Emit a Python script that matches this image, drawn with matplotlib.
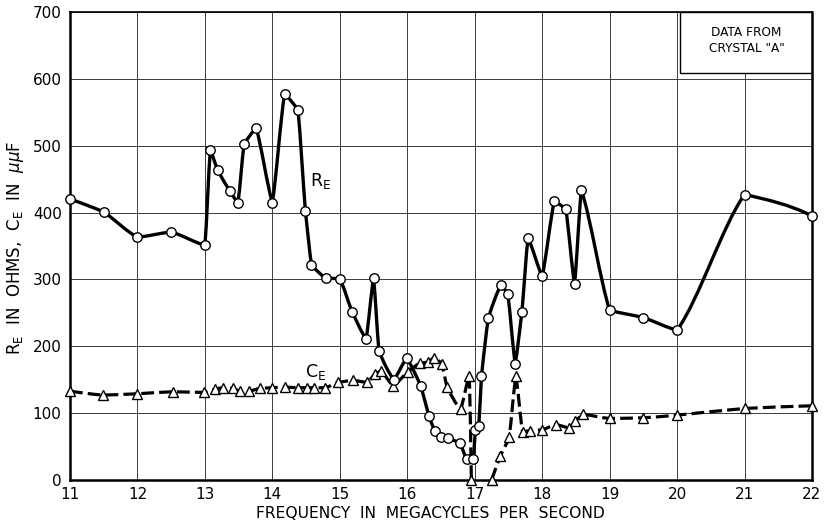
import numpy as np
import matplotlib
matplotlib.use("Agg")
import matplotlib.pyplot as plt
from matplotlib.path import Path
from matplotlib.patches import PathPatch, Rectangle

# Equivalent resistance R_E (ohms) versus frequency (Mc/s)
freq_re = [11.0, 11.5, 12.0, 12.5, 13.0, 13.08, 13.19, 13.37, 13.49, 13.58,
           13.76, 14.0, 14.18, 14.38, 14.49, 14.58, 14.79, 15.0, 15.18, 15.39,
           15.5, 15.58, 15.8, 15.99, 16.2, 16.32, 16.41, 16.5, 16.6, 16.78,
           16.88, 16.98, 17.01, 17.06, 17.1, 17.2, 17.39, 17.49, 17.6, 17.7,
           17.79, 18.0, 18.18, 18.35, 18.48, 18.58, 19.0, 19.5, 20.0, 21.0, 22.0]
re_ohms = [420, 401, 363, 371, 351, 493, 463, 432, 415, 502,
           526, 415, 577, 553, 402, 322, 302, 301, 252, 211,
           302, 193, 150, 182, 141, 96, 73, 65, 63, 55,
           32, 32, 75, 81, 155, 242, 292, 278, 174, 252,
           362, 305, 417, 405, 293, 434, 254, 243, 224, 427, 395]

# Equivalent capacitance C_E (micro-micro-farads), two branches
freq_ce_low = [11.0, 11.49, 12.0, 12.52, 12.98, 13.15, 13.27, 13.41, 13.52, 13.66,
               13.81, 13.99, 14.19, 14.38, 14.51, 14.61, 14.78, 14.98, 15.2, 15.4,
               15.52, 15.61, 15.79, 16.01, 16.19, 16.3, 16.4, 16.51, 16.59, 16.79,
               16.92, 16.95]
ce_low = [133, 127, 129, 132, 131, 136, 138, 137, 133, 133,
          137, 138, 139, 138, 138, 138, 138, 146, 149, 146,
          158, 163, 141, 162, 175, 176, 183, 174, 139, 106,
          156, 0]
freq_ce_high = [17.25, 17.38, 17.51, 17.61, 17.71, 17.82, 18.0, 18.2, 18.4, 18.49,
                18.61, 19.0, 19.5, 20.0, 21.0, 22.0]
ce_high = [0, 36, 64, 155, 72, 74, 75, 83, 78, 88,
           98, 92, 93, 97, 107, 111]

x_ticks = list(range(11, 23))
y_ticks = list(range(0, 800, 100))


def pchip_slopes(x, y):
    x = np.asarray(x, float)
    y = np.asarray(y, float)
    h = np.diff(x)
    dl = np.diff(y) / h
    n = len(x)
    d = np.zeros(n)
    for k in range(1, n - 1):
        if dl[k - 1] * dl[k] > 0:
            w1 = 2 * h[k] + h[k - 1]
            w2 = h[k] + 2 * h[k - 1]
            d[k] = (w1 + w2) / (w1 / dl[k - 1] + w2 / dl[k])

    def end(h0, h1, m0, m1):
        s = ((2 * h0 + h1) * m0 - h0 * m1) / (h0 + h1)
        if np.sign(s) != np.sign(m0):
            s = 0.0
        elif np.sign(m0) != np.sign(m1) and abs(s) > abs(3 * m0):
            s = 3 * m0
        return s

    if n > 2:
        d[0] = end(h[0], h[1], dl[0], dl[1])
        d[-1] = end(h[-1], h[-2], dl[-1], dl[-2])
    else:
        d[:] = dl[0]
    return d, dl


def smooth_path(x, y, bend=0.5):
    """Cubic Bezier path through the points; bend=0 gives straight
    segments, bend=1 a monotone cubic curve."""
    d, dl = pchip_slopes(x, y)
    verts = [(x[0], y[0])]
    codes = [Path.MOVETO]
    for i in range(len(x) - 1):
        hh = x[i + 1] - x[i]
        s0 = bend * d[i] + (1 - bend) * dl[i]
        s1 = bend * d[i + 1] + (1 - bend) * dl[i]
        verts += [(x[i] + hh / 3, y[i] + s0 * hh / 3),
                  (x[i + 1] - hh / 3, y[i + 1] - s1 * hh / 3),
                  (x[i + 1], y[i + 1])]
        codes += [Path.CURVE4] * 3
    return Path(verts, codes)


fig = plt.figure(figsize=(8.28, 5.24), dpi=100)
ax = fig.add_axes([70 / 828, 44 / 524, 742 / 828, 468 / 524])

ax.set_xlim(11, 22)
ax.set_ylim(0, 700)
ax.set_xticks(x_ticks)
ax.set_yticks(y_ticks)
ax.set_xticklabels([str(t) for t in x_ticks])
ax.set_yticklabels([str(t) for t in y_ticks])
ax.tick_params(length=0, labelsize=11, colors="black")
ax.tick_params(axis="y", pad=6)
ax.tick_params(axis="x", pad=5)
ax.grid(True, color="#3a3a3a", lw=0.7, zorder=0)
ax.set_axisbelow(True)
for side in ["left", "bottom", "right"]:
    ax.spines[side].set_linewidth(1.8)
ax.spines["top"].set_linewidth(1.2)

# C_E branches (dashed)
for fx, fy in [(freq_ce_low, ce_low), (freq_ce_high, ce_high)]:
    ax.add_patch(PathPatch(smooth_path(fx, fy, 0.4), fill=False, ec="black",
                           lw=2.3, linestyle=(0, (4, 1.6)), capstyle="butt",
                           joinstyle="round", zorder=3))
    ax.plot(fx, fy, linestyle="none", marker="^", ms=7, mfc="white",
            mec="black", mew=1.0, zorder=5, clip_on=False)

# R_E curve (solid)
ax.add_patch(PathPatch(smooth_path(freq_re, re_ohms, 0.3), fill=False,
                       ec="black", lw=2.4, capstyle="round", joinstyle="round",
                       zorder=4))
ax.plot(freq_re, re_ohms, linestyle="none", marker="o", ms=6.8, mfc="white",
        mec="black", mew=1.0, zorder=6, clip_on=False)

# Curve labels
ax.text(14.56, 440, r"R$_\mathregular{E}$", fontsize=12.5, ha="left",
        va="baseline", zorder=7)
ax.text(14.48, 154, r"C$_\mathregular{E}$", fontsize=12.5, ha="left",
        va="baseline", zorder=7)

# Note box in the upper right corner
ax.add_patch(Rectangle((20.04, 609), 22 - 20.04, 91, facecolor="white",
                       edgecolor="black", lw=1.0, zorder=2))
ax.text(21.03, 670, "DATA FROM", fontsize=8.7, ha="center", va="center", zorder=3)
ax.text(21.03, 645, 'CRYSTAL "A"', fontsize=8.7, ha="center", va="center", zorder=3)

fig.text(430 / 828, 11 / 524, "FREQUENCY  IN  MEGACYCLES  PER  SECOND",
         fontsize=11.2, ha="center", va="center")
fig.text(16 / 828, 0.527,
         r"R$_\mathregular{E}$  IN  OHMS,  C$_\mathregular{E}$  IN  $\mu\mu$F",
         fontsize=12, ha="center", va="center", rotation=90)

fig.savefig("out.png", dpi=100)
